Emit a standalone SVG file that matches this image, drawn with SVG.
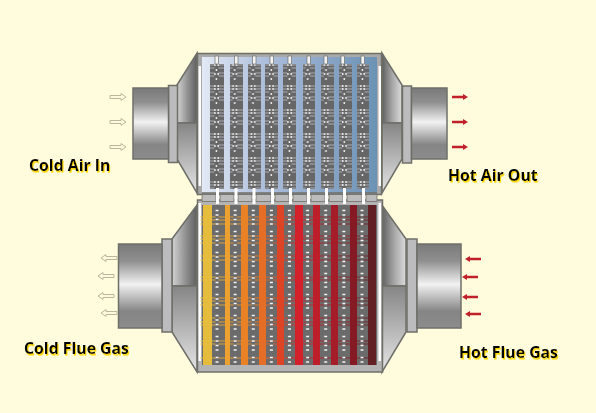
<svg xmlns="http://www.w3.org/2000/svg" width="596" height="413" viewBox="0 0 596 413">
<style>
.lbl{font-family:"Open Sans","Noto Sans",sans-serif;font-weight:700;font-size:15.8px;fill:#000;filter:url(#sh)}
.edge{stroke:#6f6f6a;stroke-width:1.5}
.flange{fill:#bcbcbe;stroke:#6f6f6a;stroke-width:1.5}
.cyl{fill:url(#cyl);stroke:#6f6f6a;stroke-width:1.5}
.hollow{fill:#fdf9dc;stroke:#b9b79c;stroke-width:1}
.red{fill:#c0202a}
.frame{fill:#a9a9a9;stroke:#6f6f6a;stroke-width:1.5}
</style>
<defs>
<filter id="sh" x="-5%" y="-20%" width="110%" height="150%"><feDropShadow dx="1" dy="1.6" stdDeviation="0.2" flood-color="#ffd800"/></filter>
<linearGradient id="cyl" x1="0" y1="0" x2="0" y2="1">
<stop offset="0" stop-color="#7a7a7a"/><stop offset=".2" stop-color="#8f8f8f"/><stop offset=".48" stop-color="#f2f2f2"/><stop offset=".8" stop-color="#858585"/><stop offset="1" stop-color="#8c8c8c"/>
</linearGradient>
<linearGradient id="hu" x1="0" y1="0" x2="1" y2="0"><stop offset="0" stop-color="#d2d2d2"/><stop offset=".6" stop-color="#8a8a8a"/><stop offset="1" stop-color="#5f5f5f"/></linearGradient>
<linearGradient id="hur" x1="0" y1="0" x2="1" y2="0"><stop offset="0" stop-color="#5f5f5f"/><stop offset=".5" stop-color="#a5a5a5"/><stop offset="1" stop-color="#dcdcdc"/></linearGradient>
<linearGradient id="hl" x1="0" y1="0" x2="0" y2="1"><stop offset="0" stop-color="#858585"/><stop offset="1" stop-color="#e6e6e6"/></linearGradient>
<linearGradient id="blue" x1="0" y1="0" x2="1" y2="0"><stop offset="0" stop-color="#e3e9f5"/><stop offset=".35" stop-color="#aebfdc"/><stop offset=".7" stop-color="#8aa6c8"/><stop offset="1" stop-color="#6b92b4"/></linearGradient>
<linearGradient id="fin" gradientUnits="userSpaceOnUse" x1="203" y1="0" x2="376" y2="0"><stop offset="0" stop-color="#e6bc3c"/><stop offset=".3" stop-color="#e98226"/><stop offset=".55" stop-color="#d4202a"/><stop offset="1" stop-color="#622024"/></linearGradient>
<pattern id="tube" x="207.500" y="58" width="18.250" height="24" patternUnits="userSpaceOnUse">
<rect width="18.250" height="24" fill="#666"/>
<path d="M0 4H18M0 7H18M0 10H18M0 15H18M0 18H18" stroke="#c3c8d0" stroke-width=".7" stroke-dasharray="7 4 7.250"/>
<path d="M7.500 3v2M10.700 3v2M7.500 6v2M10.700 6v2M9 11v2M7.500 15v2M10.700 15v2M9 20v2" stroke="#f4f4f4" stroke-width="1.400"/>
</pattern>
<pattern id="tubeh" x="208" y="207" width="18.120" height="21" patternUnits="userSpaceOnUse">
<rect width="18.120" height="21" fill="#6b6b6b"/>
<path d="M7.500 3.500h3M7.500 8h3M7.500 12.500h3M7.500 17h3" stroke="#f5f5f5" stroke-width="1.500"/>
</pattern>
<g id="r"><path d="M0 -1.200H11V-3L16 0L11 3V1.200H0Z" class="red"/></g>
<g id="rl"><path d="M16 -1.200H5V-3L0 0L5 3V1.200H16Z" class="red"/></g>
<g id="h"><path d="M0 -1.500H11V-3.500L16 0L11 3.500V1.500H0Z" class="hollow"/></g>
<g id="hr"><path d="M16 -1.500H5V-3.500L0 0L5 3.500V1.500H16Z" class="hollow"/></g>
</defs>
<rect width="596" height="413" fill="#fffbdd"/>

<g id="air-inlet">
<path d="M177 85L197 53V123H177Z" fill="url(#hu)" class="edge"/>
<path d="M177 123H197V193L177 159Z" fill="url(#hl)" class="edge"/>
<rect x="168.500" y="85.500" width="9" height="77" class="flange"/>
<rect x="133" y="88" width="35.500" height="71" class="cyl"/>
</g>
<g id="air-outlet">
<path d="M402 85L382 53V123H402Z" fill="url(#hur)" class="edge"/>
<path d="M402 123H382V193L402 159Z" fill="url(#hl)" class="edge"/>
<rect x="402.500" y="86" width="9" height="77" class="flange"/>
<rect x="411.500" y="88" width="35.500" height="71" class="cyl"/>
</g>
<g id="gas-outlet">
<path d="M172 239L197 205V286H172Z" fill="url(#hu)" class="edge"/>
<path d="M172 286H197V372L172 332Z" fill="url(#hl)" class="edge"/>
<rect x="162" y="239" width="10" height="93" class="flange"/>
<rect x="118.500" y="244" width="43.500" height="84" class="cyl"/>
</g>
<g id="gas-inlet">
<path d="M406 239L382 205V286H406Z" fill="url(#hur)" class="edge"/>
<path d="M406 286H382V372L406 332Z" fill="url(#hl)" class="edge"/>
<rect x="407" y="239" width="10" height="93" class="flange"/>
<rect x="417" y="244" width="44" height="84" class="cyl"/>
</g>

<g id="upper-core">
<rect x="197.500" y="53.500" width="184" height="141" class="frame"/>
<rect x="202" y="57" width="175" height="136" fill="url(#blue)"/>
<rect x="198.500" y="66" width="2.500" height="120" fill="#fff"/>
<rect x="378.500" y="66" width="2.500" height="120" fill="#fff"/>
<path d="M202 193H377" stroke="#6f6f6a" stroke-width="1.500"/>
<g fill="url(#tube)">
<rect x="210" y="64" width="14" height="125"/><rect x="230" y="64" width="13" height="125"/><rect x="248" y="64" width="13" height="125"/><rect x="265" y="64" width="13" height="125"/><rect x="283" y="64" width="13" height="125"/><rect x="303" y="64" width="12" height="125"/><rect x="321" y="64" width="13" height="125"/><rect x="339" y="64" width="13" height="125"/><rect x="357" y="64" width="12" height="125"/>
</g>
<g fill="#f4f4f4" stroke="#6f6f6a" stroke-width=".7">
<rect x="215" y="56" width="3.500" height="8"/><rect x="234.500" y="56" width="3.500" height="8"/><rect x="252.500" y="56" width="3.500" height="8"/><rect x="270" y="56" width="3.500" height="8"/><rect x="288" y="56" width="3.500" height="8"/><rect x="307" y="56" width="3.500" height="8"/><rect x="324" y="56" width="3.500" height="8"/><rect x="341" y="56" width="3.500" height="8"/><rect x="361" y="56" width="3.500" height="8"/>
</g>
</g>

<g id="lower-core">
<rect x="197.500" y="200" width="185" height="172" fill="#b4b4b4" stroke="#6f6f6a" stroke-width="1.500"/>
<rect x="202" y="205" width="175" height="160" fill="url(#tubeh)"/>
<rect x="198.500" y="203" width="2.500" height="158" fill="#fff"/>
<rect x="378.500" y="203" width="2.500" height="158" fill="#fff"/>
<path d="M200.400 217H376M200.400 220H376M200.400 224H376M200.400 236H376M200.400 239H376M200.400 243H376M200.400 256H376M200.400 260H376M200.400 277H376M200.400 280H376M200.400 298H376M200.400 301H376M200.400 305H376M200.400 318H376M200.400 322H376M200.400 325H376M200.400 341H376M200.400 344H376M200.400 358H376" fill="none" stroke="url(#fin)" stroke-width=".9" stroke-dasharray="15.120 3"/>
<rect x="203" y="205" width="9" height="160" fill="#e6bc3c"/>
<rect x="225" y="205" width="5" height="160" fill="#eca030"/>
<rect x="241" y="205" width="7" height="160" fill="#e98226"/>
<rect x="259" y="205" width="7" height="160" fill="#e66d26"/>
<rect x="277" y="205" width="7" height="160" fill="#dd4426"/>
<rect x="295" y="205" width="8" height="160" fill="#d4202a"/>
<rect x="313" y="205" width="7" height="160" fill="#bd1f2a"/>
<rect x="331" y="205" width="7" height="160" fill="#a51d28"/>
<rect x="350" y="205" width="7" height="160" fill="#851a24"/>
<rect x="368" y="205" width="8" height="160" fill="#622024"/>
<g fill="#bcbcbc" stroke="#6f6f6a" stroke-width=".8">
<rect x="202" y="194.500" width="14" height="7"/><rect x="220" y="194.500" width="14" height="7"/><rect x="238" y="194.500" width="14" height="7"/><rect x="256" y="194.500" width="15" height="7"/><rect x="275" y="194.500" width="14" height="7"/><rect x="293" y="194.500" width="14" height="7"/><rect x="311" y="194.500" width="14" height="7"/><rect x="329" y="194.500" width="14" height="7"/><rect x="347" y="194.500" width="15" height="7"/><rect x="366" y="194.500" width="11" height="7"/>
</g>
<g fill="#fff">
<rect x="216" y="188" width="3" height="16"/><rect x="234.500" y="188" width="3" height="16"/><rect x="252.500" y="188" width="3" height="16"/><rect x="271" y="188" width="3" height="16"/><rect x="289" y="188" width="3" height="16"/><rect x="307" y="188" width="3" height="16"/><rect x="325" y="188" width="3" height="16"/><rect x="343" y="188" width="3" height="16"/><rect x="362" y="188" width="3" height="16"/>
</g>
</g>

<g id="connectors">
<use href="#h" x="110" y="97"/><use href="#h" x="110" y="122"/><use href="#h" x="110" y="147"/>
<use href="#r" x="452" y="97"/><use href="#r" x="452" y="122"/><use href="#r" x="452" y="147"/>
<use href="#hr" x="101" y="258"/><use href="#hr" x="98" y="276"/><use href="#hr" x="98" y="296"/><use href="#hr" x="101" y="313"/>
<use href="#rl" x="465" y="259"/><use href="#rl" x="462" y="277"/><use href="#rl" x="462" y="297"/><use href="#rl" x="465" y="314"/>
</g>

<g id="labels">
<text class="lbl" x="29" y="171">Cold Air In</text>
<text class="lbl" x="448" y="181">Hot Air Out</text>
<text class="lbl" x="24" y="354">Cold Flue Gas</text>
<text class="lbl" x="459" y="358">Hot Flue Gas</text>
</g>
</svg>
